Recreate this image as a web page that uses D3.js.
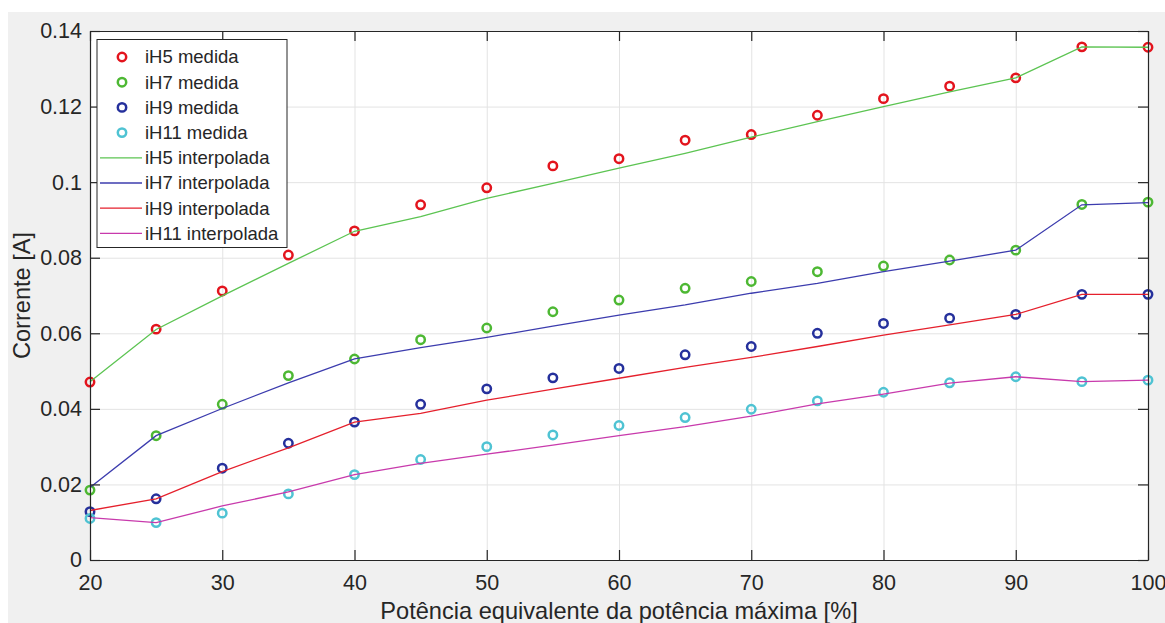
<!DOCTYPE html>
<html>
<head>
<meta charset="utf-8">
<script src="https://cdn.jsdelivr.net/npm/d3@7"></script>
<style>
  html, body { margin: 0; padding: 0; background: #ffffff; }
  svg { display: block; }
  text { font-family: "Liberation Sans", Arial, Helvetica, sans-serif; fill: #262626; }
</style>
</head>
<body>
<svg id="chart" width="1165" height="623"></svg>
<script>
// Power levels (% of maximum power)
const potencia = [20, 25, 30, 35, 40, 45, 50, 55, 60, 65, 70, 75, 80, 85, 90, 95, 100];

// Measured harmonic currents [A]
const iH5Medida  = [0.0471, 0.0611, 0.0712, 0.0807, 0.0871, 0.0940, 0.0985, 0.1043, 0.1062, 0.1111, 0.1126, 0.1177, 0.1221, 0.1254, 0.1276, 0.1358, 0.1357];
const iH7Medida  = [0.0185, 0.0329, 0.0412, 0.0488, 0.0532, 0.0583, 0.0614, 0.0657, 0.0688, 0.0719, 0.0737, 0.0763, 0.0778, 0.0794, 0.0820, 0.0941, 0.0947];
const iH9Medida  = [0.0128, 0.0162, 0.0243, 0.0309, 0.0365, 0.0412, 0.0453, 0.0482, 0.0507, 0.0543, 0.0565, 0.0600, 0.0626, 0.0640, 0.0650, 0.0703, 0.0703];
const iH11Medida = [0.0110, 0.0099, 0.0124, 0.0175, 0.0226, 0.0266, 0.0300, 0.0331, 0.0356, 0.0377, 0.0399, 0.0421, 0.0444, 0.0469, 0.0485, 0.0472, 0.0476];

// Interpolated harmonic currents [A]
const iH5Interp  = [0.0472, 0.0610, 0.0699, 0.0785, 0.0870, 0.0909, 0.0957, 0.0997, 0.1037, 0.1076, 0.1119, 0.1160, 0.1200, 0.1239, 0.1276, 0.1358, 0.1357];
const iH7Interp  = [0.0192, 0.0329, 0.0401, 0.0469, 0.0532, 0.0562, 0.0589, 0.0619, 0.0648, 0.0675, 0.0706, 0.0732, 0.0763, 0.0791, 0.0820, 0.0940, 0.0946];
const iH9Interp  = [0.0131, 0.0162, 0.0234, 0.0297, 0.0365, 0.0388, 0.0423, 0.0452, 0.0481, 0.0510, 0.0536, 0.0565, 0.0595, 0.0622, 0.0650, 0.0703, 0.0703];
const iH11Interp = [0.0112, 0.0099, 0.0143, 0.0180, 0.0226, 0.0256, 0.0280, 0.0304, 0.0329, 0.0353, 0.0381, 0.0413, 0.0439, 0.0468, 0.0485, 0.0472, 0.0476];

// Axis ticks
const xTicks = [20, 30, 40, 50, 60, 70, 80, 90, 100];
const yTicks = [0, 0.02, 0.04, 0.06, 0.08, 0.1, 0.12, 0.14];

const markerSeries = [
  { name: "iH5 medida",  values: iH5Medida,  color: "#e3141d" },
  { name: "iH7 medida",  values: iH7Medida,  color: "#4db833" },
  { name: "iH9 medida",  values: iH9Medida,  color: "#25309c" },
  { name: "iH11 medida", values: iH11Medida, color: "#4fc3d3" }
];
const lineSeries = [
  { name: "iH5 interpolada",  values: iH5Interp,  color: "#5cc452" },
  { name: "iH7 interpolada",  values: iH7Interp,  color: "#3c3cae" },
  { name: "iH9 interpolada",  values: iH9Interp,  color: "#e5202c" },
  { name: "iH11 interpolada", values: iH11Interp, color: "#c83aac" }
];

const svg = d3.select("#chart");
const plotL = 90, plotR = 1148, plotT = 31, plotB = 560;
const tickFont = 21.5, labelFont = 23.6;

// Figure background
svg.append("rect").attr("x", 8).attr("y", 12).attr("width", 1157).attr("height", 611).attr("fill", "#f0f0f0");
svg.append("rect").attr("x", plotL).attr("y", plotT).attr("width", plotR - plotL).attr("height", plotB - plotT).attr("fill", "#ffffff");

const x = d3.scaleLinear().domain([20, 100]).range([plotL, plotR]);
const y = d3.scaleLinear().domain([0, 0.14]).range([plotB, plotT]);

// Grid lines
svg.append("g").attr("transform", `translate(0,${plotB})`)
  .call(d3.axisBottom(x).tickValues(xTicks).tickSize(-(plotB - plotT)).tickFormat(""))
  .call(g => g.select(".domain").remove())
  .call(g => g.selectAll("line").attr("stroke", "#e3e3e3").attr("stroke-width", 1));
svg.append("g").attr("transform", `translate(${plotL},0)`)
  .call(d3.axisLeft(y).tickValues(yTicks).tickSize(-(plotR - plotL)).tickFormat(""))
  .call(g => g.select(".domain").remove())
  .call(g => g.selectAll("line").attr("stroke", "#e3e3e3").attr("stroke-width", 1));

const fmtY = d => String(+d.toFixed(2));

// Measured points
markerSeries.forEach(s => {
  svg.append("g").selectAll("circle")
    .data(potencia.map((p, i) => [p, s.values[i]]))
    .join("circle")
    .attr("cx", d => x(d[0]))
    .attr("cy", d => y(d[1]))
    .attr("r", 4.2)
    .attr("fill", "none")
    .attr("stroke", s.color)
    .attr("stroke-width", 2.5);
});

// Interpolated curves
const line = d3.line().x(d => x(d[0])).y(d => y(d[1]));
lineSeries.forEach(s => {
  svg.append("path")
    .datum(potencia.map((p, i) => [p, s.values[i]]))
    .attr("d", line)
    .attr("fill", "none")
    .attr("stroke", s.color)
    .attr("stroke-width", 1.3);
});

// Axes with inward ticks on all four sides
const axisStyle = g => {
  g.select(".domain").attr("stroke", "#262626").attr("stroke-width", 1.2);
  g.selectAll(".tick line").attr("stroke", "#262626").attr("stroke-width", 1.2);
  g.selectAll("text").attr("font-size", tickFont).attr("fill", "#262626")
    .style("font-family", '"Liberation Sans", Arial, sans-serif');
};
svg.append("g").attr("transform", `translate(0,${plotB})`)
  .call(d3.axisBottom(x).tickValues(xTicks).tickSize(-10).tickSizeOuter(0).tickPadding(14.5).tickFormat(d3.format("d")))
  .call(axisStyle);
svg.append("g").attr("transform", `translate(0,${plotT})`)
  .call(d3.axisTop(x).tickValues(xTicks).tickSize(-10).tickSizeOuter(0).tickFormat(""))
  .call(axisStyle);
svg.append("g").attr("transform", `translate(${plotL},0)`)
  .call(d3.axisLeft(y).tickValues(yTicks).tickSize(-10).tickSizeOuter(0).tickPadding(8).tickFormat(fmtY))
  .call(axisStyle);
svg.append("g").attr("transform", `translate(${plotR},0)`)
  .call(d3.axisRight(y).tickValues(yTicks).tickSize(-10).tickSizeOuter(0).tickFormat(""))
  .call(axisStyle);

// Axis titles
svg.append("text")
  .attr("x", (plotL + plotR) / 2).attr("y", 619)
  .attr("text-anchor", "middle").attr("font-size", labelFont)
  .text("Potência equivalente da potência máxima [%]");
svg.append("text")
  .attr("transform", `translate(30,${(plotT + plotB) / 2}) rotate(-90)`)
  .attr("text-anchor", "middle").attr("font-size", labelFont)
  .text("Corrente [A]");

// Legend
const lg = svg.append("g");
lg.append("rect").attr("x", 97).attr("y", 39.5).attr("width", 190).attr("height", 208)
  .attr("fill", "#ffffff").attr("stroke", "#262626").attr("stroke-width", 1);
const entries = markerSeries.map(s => ({ ...s, kind: "marker" }))
  .concat(lineSeries.map(s => ({ ...s, kind: "line" })));
entries.forEach((e, i) => {
  const cy = 57 + i * 25.2;
  if (e.kind === "marker") {
    lg.append("circle").attr("cx", 122).attr("cy", cy).attr("r", 4.2)
      .attr("fill", "none").attr("stroke", e.color).attr("stroke-width", 2.5);
  } else {
    lg.append("line").attr("x1", 100).attr("x2", 142).attr("y1", cy).attr("y2", cy)
      .attr("stroke", e.color).attr("stroke-width", 1.3);
  }
  lg.append("text").attr("x", 145).attr("y", cy).attr("dy", "0.35em")
    .attr("font-size", 18.5).text(e.name);
});
</script>
</body>
</html>
